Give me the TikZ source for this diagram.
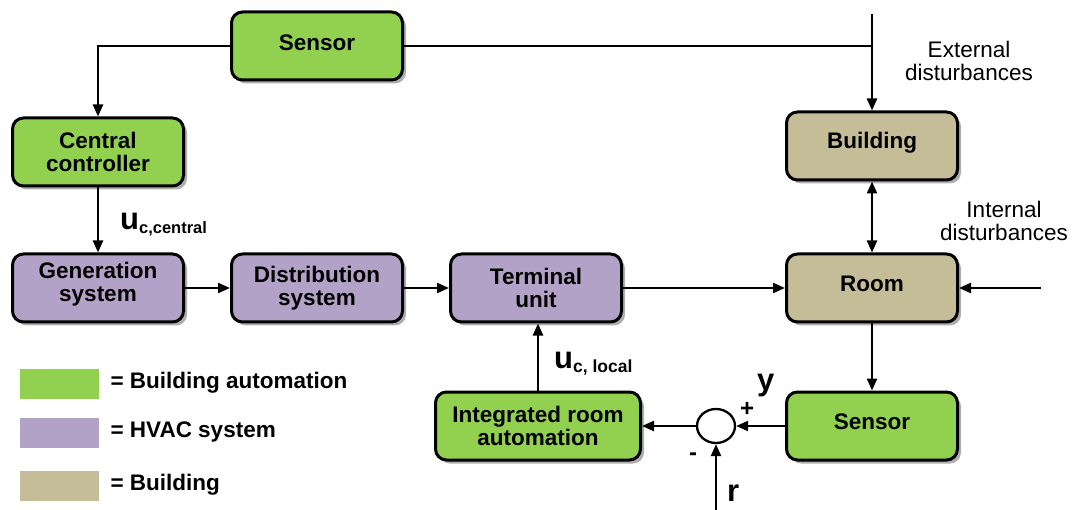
\documentclass[tikz,border=0pt]{standalone}
\usepackage{fontspec}
\setmainfont{Liberation Sans}
\usetikzlibrary{arrows.meta,shadows,shapes.geometric}
\definecolor{bagreen}{HTML}{92D050}
\definecolor{hvac}{HTML}{B3A2C7}
\definecolor{bldg}{HTML}{C4BD97}
\begin{document}
\begin{tikzpicture}[x=1pt,y=-1pt,
  blk/.style={draw=black, line width=3pt, rounded corners=11pt,
    minimum width=171pt, minimum height=68pt, inner sep=2pt, align=center,
    font=\fontsize{22.5}{23}\selectfont\bfseries,
    drop shadow={shadow xshift=3.5pt, shadow yshift=-3.5pt, fill=black!45, opacity=0.7}},
  flow/.style={line width=2.3pt, -{Triangle[length=12pt,width=10pt]}},
  wire/.style={line width=2.3pt},
  note/.style={align=center, font=\fontsize{22.5}{23}\selectfont},
  key/.style={minimum width=79pt, minimum height=30pt, inner sep=0pt},
  keytext/.style={anchor=west, font=\fontsize{22.5}{23}\selectfont\bfseries},
  sig/.style={anchor=base west, inner sep=0pt, font=\bfseries}
]
\useasboundingbox (0,0) rectangle (1078,510);

% blocks
\node[blk, fill=bagreen, text depth=7pt] (sens1) at (317,46) {Sensor};
\node[blk, fill=bagreen] (cc) at (98,152) {Central\\controller};
\node[blk, fill=hvac, text depth=12pt] (gen) at (98,288) {Generation\\system};
\node[blk, fill=hvac] (dist) at (317,288) {Distribution\\system};
\node[blk, fill=hvac] (term) at (536,288) {Terminal\\unit};
\node[blk, fill=bldg, text depth=12pt] (bld) at (872,146) {Building};
\node[blk, fill=bldg, text depth=9pt] (room) at (872,288) {Room};
\node[blk, fill=bagreen, text depth=9pt] (sens2) at (872,426) {Sensor};
\node[blk, fill=bagreen, minimum width=205pt] (ira) at (538,426) {Integrated room\\automation};
\node[draw, line width=2.3pt, ellipse, minimum width=38pt, minimum height=34pt, inner sep=0pt] (sum) at (716,426) {};

% free ends
\coordinate (ext) at (872,14);
\coordinate (intd) at (1041,288);
\coordinate (ref) at (716,510);

% connectors
\draw[flow] (sens1.west) -| (cc.north);
\draw[wire] (sens1.east) -- (sens1.east -| ext);
\draw[flow] (ext) -- (bld.north);
\draw[flow] (cc.south) -- (gen.north);
\draw[flow] (gen.east) -- (dist.west);
\draw[flow] (dist.east) -- (term.west);
\draw[flow] (term.east) -- (room.west);
\draw[line width=2.3pt, {Triangle[length=12pt,width=10pt]}-{Triangle[length=12pt,width=10pt]}] (bld.south) -- (room.north);
\draw[flow] (intd) -- (room.east);
\draw[flow] (room.south) -- (sens2.north);
\draw[flow] (sens2.west) -- (sum.east);
\draw[flow] (sum.west) -- (ira.east);
\draw[flow] (ira.north) -- (ira.north |- term.south);
\draw[flow] (ref) -- (sum.south);

% signal labels
\node[sig] (uc) at (120,230) {{\fontsize{31}{31}\selectfont u}{\fontsize{16.5}{16.5}\selectfont\raisebox{-4pt}{c,central}}};
\node[sig] (ul) at (554,368) {{\fontsize{31}{31}\selectfont u}{\fontsize{17.5}{17.5}\selectfont\raisebox{-4pt}{c, local}}};
\node[sig, font=\fontsize{31}{31}\selectfont\bfseries] (ysig) at (757,390) {y};
\node[sig, font=\fontsize{31}{31}\selectfont\bfseries] (rsig) at (727,501) {r};
\node[font=\fontsize{24}{24}\selectfont\bfseries, inner sep=0pt] (plus) at (747,409) {+};
\node[font=\fontsize{24}{24}\selectfont\bfseries, inner sep=0pt] (minus) at (693,457) {-};

% disturbances
\node[note] (extd) at (969,61) {External\\disturbances};
\node[note] (intdl) at (1004,221) {Internal\\disturbances};

% legend
\node[key, fill=bagreen] (k1) at (59.5,383.5) {};
\node[key, fill=hvac] (k2) at (59.5,433) {};
\node[key, fill=bldg] (k3) at (59.5,486) {};
\node[keytext] (t1) at (107,383) {= Building automation};
\node[keytext] (t2) at (107,432) {= HVAC system};
\node[keytext] (t3) at (107,485) {= Building};
\end{tikzpicture}
\end{document}
